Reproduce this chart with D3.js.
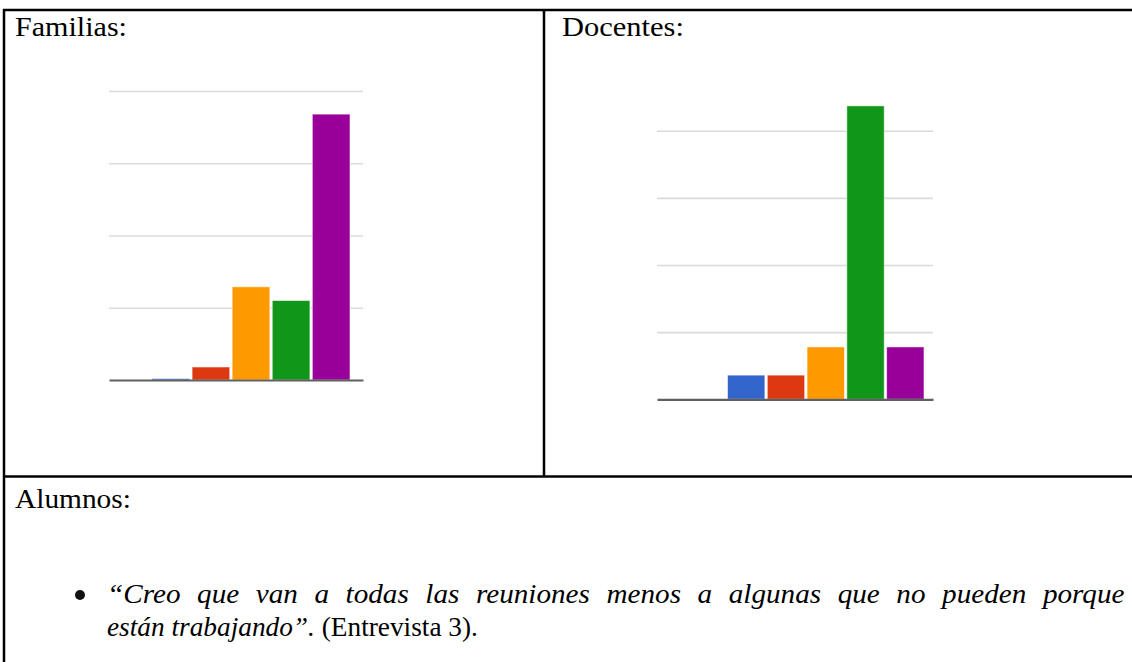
<!DOCTYPE html>
<html>
<head>
<meta charset="utf-8">
<script src="https://cdn.jsdelivr.net/npm/d3@7"></script>
<style>
  html, body { margin: 0; padding: 0; background: #fff; }
  svg { display: block; }
  text { font-family: "Liberation Serif", "Times New Roman", serif; fill: #000; }
</style>
</head>
<body>
<svg id="chart" width="1132" height="662"></svg>
<script>
// ---- Data ----
const categories = ["1", "2", "3", "4", "5"];
const barColors = ["#3366cc", "#dc3912", "#ff9900", "#109618", "#990099"];
const familiasValues = [0.2, 1.8, 12.9, 11.0, 36.8];
const docentesValues = [3.6, 3.6, 7.8, 43.7, 7.8];
const gridTicks = [10, 20, 30, 40];
const titles = ["Familias:", "Docentes:", "Alumnos:"];
const quoteLine1 = "“Creo que van a todas las reuniones menos a algunas que no pueden porque";
const quoteLine2Italic = "están trabajando”.";
const quoteLine2Normal = " (Entrevista 3).";

const svg = d3.select("#chart");
const FS = 26.5;

// ---- Table borders ----
const borders = svg.append("g").attr("stroke", "#000").attr("stroke-width", 2.5);
borders.append("line").attr("x1", 3).attr("x2", 1132).attr("y1", 10).attr("y2", 10);
borders.append("line").attr("x1", 4).attr("x2", 4).attr("y1", 9).attr("y2", 662);
borders.append("line").attr("x1", 544).attr("x2", 544).attr("y1", 9).attr("y2", 476.5);
borders.append("line").attr("x1", 3).attr("x2", 1132).attr("y1", 476.5).attr("y2", 476.5);

// ---- Bar charts ----
function barChart(values, cfg) {
  const g = svg.append("g");
  const y = d3.scaleLinear().domain([0, 40]).range([cfg.base, cfg.top]);
  const x = d3.scaleBand().domain(categories).range([cfg.bx0, cfg.bx1]).paddingInner(0.06).paddingOuter(0);
  const grid = g.append("g")
    .attr("transform", `translate(${cfg.gx0},0)`)
    .call(d3.axisLeft(y).tickValues(gridTicks).tickSize(-(cfg.gx1 - cfg.gx0)).tickFormat(""));
  grid.select(".domain").remove();
  grid.selectAll(".tick line").attr("stroke", "#dadada").attr("stroke-width", 1.6);
  g.selectAll("rect.bar").data(values).join("rect")
    .attr("class", "bar")
    .attr("x", (d, i) => x(categories[i]))
    .attr("width", x.bandwidth())
    .attr("y", d => y(d))
    .attr("height", d => y(0) - y(d))
    .attr("fill", (d, i) => barColors[i])
    .attr("stroke", "#fff").attr("stroke-opacity", 0.55).attr("stroke-width", 1);
  const base = g.append("g")
    .attr("transform", `translate(0,${y(0)})`)
    .call(d3.axisBottom(d3.scaleLinear().range([cfg.gx0, cfg.gx1])).tickValues([]).tickSizeOuter(0));
  base.select(".domain").attr("stroke", "#606060").attr("stroke-width", 2.2);
}
barChart(familiasValues, { base: 380, top: 91, bx0: 152, bx1: 350, gx0: 109, gx1: 363 });
barChart(docentesValues, { base: 399.3, top: 130.7, bx0: 727.5, bx1: 924, gx0: 657, gx1: 933 });

// ---- Text ----
function label(str, x, y, width) {
  const t = svg.append("text").attr("font-size", FS).text(str);
  const sx = width / t.node().getComputedTextLength();
  t.attr("transform", `translate(${x},${y}) scale(${sx},1)`);
  return sx;
}
const sxTitle = label(titles[0], 15, 36, 112);
label(titles[1], 562, 36, 122);
label(titles[2], 15, 508, 116);

svg.append("circle").attr("cx", 80).attr("cy", 595).attr("r", 5).attr("fill", "#111");

// first quote line: justified between 107 and 1125
const l1 = svg.append("text").attr("font-size", FS).attr("font-style", "italic").text(quoteLine1);
const sx1 = sxTitle * 0.97;
const natural = l1.node().getComputedTextLength();
const target = (1125 - 107) / sx1;
const gaps = quoteLine1.split(" ").length - 1;
l1.attr("word-spacing", Math.max(0, (target - natural) / gaps))
  .attr("transform", `translate(107,603) scale(${sx1},1)`);

// second quote line
const l2 = svg.append("text").attr("font-size", FS);
l2.append("tspan").attr("font-style", "italic").text(quoteLine2Italic);
l2.append("tspan").text(quoteLine2Normal);
const sx2 = (478 - 107) / l2.node().getComputedTextLength();
l2.attr("transform", `translate(107,636) scale(${sx2},1)`);
</script>
</body>
</html>
